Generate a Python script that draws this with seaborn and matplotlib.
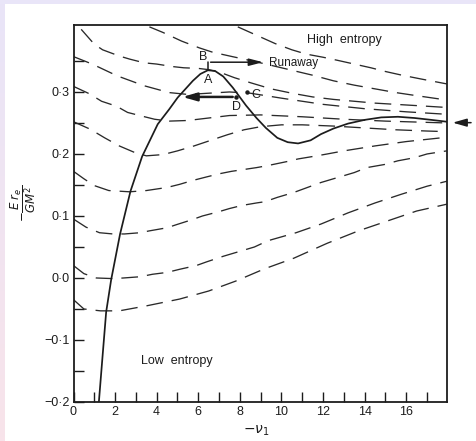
import numpy as np
import pandas as pd
import matplotlib
matplotlib.use("Agg")
import matplotlib.pyplot as plt
from matplotlib.patches import Rectangle
import seaborn as sns

# equilibrium sequence (solid curve)
eq_x = [1.22, 1.4, 1.57, 1.81, 2.24, 2.74, 3.3, 4.05, 4.6, 5.01, 5.74, 6.1, 6.46, 6.8, 7.2,
        7.66, 8.3, 8.8, 9.25, 9.8, 10.3, 10.8, 11.4, 11.9, 12.5, 13.2, 14.0, 14.8, 15.6,
        16.4, 17.2, 17.95]
eq_y = [-0.2, -0.125, -0.055, -0.003, 0.071, 0.14, 0.196, 0.248, 0.272, 0.291, 0.318, 0.329,
        0.335, 0.334, 0.325, 0.307, 0.278, 0.258, 0.242, 0.226, 0.219, 0.217, 0.222, 0.232,
        0.241, 0.249, 0.255, 0.259, 0.26, 0.258, 0.255, 0.252]

# constant-entropy curves (dashed), top to bottom
t1_x = [7.9, 8.7, 9.7, 10.5, 11.2, 12.0, 12.7, 13.5, 14.3, 15.0, 15.8, 16.7, 17.95]
t1_y = [0.405, 0.393, 0.378, 0.368, 0.361, 0.356, 0.351, 0.345, 0.339, 0.333, 0.327, 0.321, 0.313]
t2_x = [3.65, 4.3, 5.2, 6.06, 6.7, 7.64, 8.6, 9.5, 10.5, 11.5, 12.5, 13.5, 14.5, 15.5, 16.5, 17.95]
t2_y = [0.405, 0.396, 0.382, 0.371, 0.364, 0.357, 0.35, 0.343, 0.335, 0.327, 0.318, 0.311,
        0.305, 0.299, 0.294, 0.287]
a_x = [0.37, 1.0, 1.4, 2.2, 2.7, 3.4, 4.0, 4.75, 5.3, 6.0, 6.5, 7.1, 7.74, 8.5, 9.5, 10.5,
       11.5, 12.5, 13.5, 14.5, 15.5, 16.5, 17.95]
a_y = [0.401, 0.377, 0.368, 0.358, 0.353, 0.347, 0.345, 0.341, 0.339, 0.338, 0.336, 0.331,
       0.323, 0.315, 0.305, 0.298, 0.292, 0.288, 0.285, 0.282, 0.28, 0.278, 0.275]
b_x = [0, 0.9, 2.1, 3.4, 4.6, 5.5, 6.5, 7.5, 8.5, 10.0, 12.0, 14.0, 16.0, 17.95]
b_y = [0.357, 0.345, 0.326, 0.31, 0.299, 0.296, 0.298, 0.3, 0.298, 0.29, 0.28, 0.273, 0.268, 0.264]
c_x = [0, 0.77, 1.35, 2.07, 2.6, 3.3, 3.9, 4.6, 5.5, 6.5, 7.5, 9.0, 11.0, 13.0, 15.0, 17.95]
c_y = [0.309, 0.297, 0.285, 0.277, 0.267, 0.261, 0.256, 0.253, 0.254, 0.258, 0.262, 0.263,
       0.26, 0.256, 0.253, 0.25]
d_x = [0, 0.8, 1.5, 2.2, 2.9, 3.5, 4.3, 5.0, 5.8, 6.6, 7.4, 8.2, 9.0, 10.0, 11.0, 12.5, 14.0,
       15.5, 17.0, 17.95]
d_y = [0.252, 0.24, 0.226, 0.213, 0.203, 0.197, 0.199, 0.205, 0.213, 0.222, 0.231, 0.239,
       0.244, 0.247, 0.247, 0.245, 0.242, 0.239, 0.237, 0.236]
e_x = [0, 0.5, 1.0, 1.7, 2.7, 3.5, 4.5, 5.1, 5.7, 6.4, 7.0, 7.6, 8.8, 9.3, 10.3, 10.8, 11.7,
       12.2, 13.0, 14.5, 16.0, 17.95]
e_y = [0.172, 0.16, 0.149, 0.141, 0.139, 0.141, 0.146, 0.151, 0.157, 0.163, 0.168, 0.172,
       0.178, 0.181, 0.188, 0.192, 0.197, 0.2, 0.205, 0.213, 0.22, 0.227]
f_x = [0, 0.6, 1.25, 1.9, 2.45, 3.2, 3.65, 4.5, 4.95, 5.7, 6.2, 7.0, 7.5, 8.1, 8.8, 9.2, 9.8,
       10.6, 11.25, 11.9, 12.7, 13.5, 14.1, 14.95, 15.6, 16.4, 17.0, 17.95]
f_y = [0.095, 0.082, 0.073, 0.071, 0.071, 0.073, 0.076, 0.081, 0.086, 0.094, 0.1, 0.107, 0.112,
       0.117, 0.121, 0.123, 0.13, 0.138, 0.146, 0.154, 0.162, 0.17, 0.178, 0.183, 0.189, 0.194,
       0.2, 0.205]
g_x = [0, 0.5, 1.1, 1.9, 2.4, 3.2, 3.8, 4.5, 5.1, 5.9, 6.4, 7.2, 8.0, 8.7, 9.34, 10.7, 11.9,
       13.2, 14.5, 15.76, 17.0, 17.95]
g_y = [0.02, 0.007, 0.0, -0.001, 0.0, 0.002, 0.006, 0.009, 0.014, 0.02, 0.026, 0.035, 0.043,
       0.05, 0.06, 0.073, 0.087, 0.105, 0.121, 0.135, 0.148, 0.156]
h_x = [0, 0.5, 1.3, 2.2, 3.5, 5.1, 6.5, 7.8, 9.2, 10.6, 12.2, 13.7, 15.1, 16.5, 17.95]
h_y = [-0.035, -0.05, -0.053, -0.053, -0.045, -0.034, -0.021, -0.005, 0.015, 0.032, 0.056,
       0.076, 0.092, 0.108, 0.119]

x_ticks = [0, 2, 4, 6, 8, 10, 12, 14, 16]
y_ticks = [-0.2, -0.1, 0.0, 0.1, 0.2, 0.3]
y_tick_labels = ["\u22120\u00b72", "\u22120\u00b71", "0\u00b70", "0\u00b71", "0\u00b72", "0\u00b73"]

sns.set_theme(style="ticks")
plt.rcParams["font.family"] = ["Liberation Sans", "DejaVu Sans"]
plt.rcParams["lines.scale_dashes"] = False
plt.rcParams["mathtext.fontset"] = "dejavusans"

ink = "#1c1c1c"
fig = plt.figure(figsize=(4.76, 4.41), dpi=100)

# lavender page background with white sheet
bg = fig.add_axes([0, 0, 1, 1], zorder=-5)
grad = np.linspace(0, 1, 100)[:, None]
cmap = matplotlib.colors.LinearSegmentedColormap.from_list("pg", ["#e9e5f8", "#f8e3ea"])
bg.imshow(grad, aspect="auto", cmap=cmap, extent=[0, 1, 0, 1], origin="upper")
bg.add_patch(Rectangle((5 / 476, 0), 1, 1 - 4 / 441, color="white", lw=0))
bg.set_xlim(0, 1)
bg.set_ylim(0, 1)
bg.axis("off")

ax = fig.add_axes([73.5 / 476, 39 / 441, 373.5 / 476, 377 / 441])
ax.set_facecolor("none")

curves = [(t1_x, t1_y), (t2_x, t2_y), (a_x, a_y), (b_x, b_y), (c_x, c_y), (d_x, d_y),
          (e_x, e_y), (f_x, f_y), (g_x, g_y), (h_x, h_y)]
for cx, cy in curves:
    sns.lineplot(x=cx, y=cy, ax=ax, color="#2a2a2a", lw=0.95, sort=False, estimator=None,
                 linestyle=(0, (12, 6.5)), clip_on=True)

sns.lineplot(x=eq_x, y=eq_y, ax=ax, color=ink, lw=1.25, sort=False, estimator=None)

# runaway path A -> B -> right
ax.plot([6.46, 6.46], [0.335, 0.348], color=ink, lw=1.1)
ax.annotate("", xy=(9.25, 0.348), xytext=(6.46, 0.348),
            arrowprops=dict(arrowstyle="-|>,head_length=0.7,head_width=0.18", color=ink, lw=1.1))
ax.annotate("", xy=(5.1, 0.292), xytext=(7.79, 0.292),
            arrowprops=dict(arrowstyle="-|>,head_length=0.7,head_width=0.2", color=ink, lw=1.8))
ax.plot([7.79], [0.292], "o", color=ink, ms=2.2)
ax.plot([8.33], [0.300], "o", color=ink, ms=2.2)
ax.annotate("", xy=(18.1, 0.2505), xytext=(19.25, 0.2505), annotation_clip=False,
            arrowprops=dict(arrowstyle="-|>,head_length=0.7,head_width=0.2", color=ink, lw=1.1))

ax.text(6.22, 0.356, "B", fontsize=9, color=ink, ha="center", va="center")
ax.text(6.49, 0.319, "A", fontsize=9, color=ink, ha="center", va="center")
ax.text(8.75, 0.295, "C", fontsize=9, color=ink, ha="center", va="center")
ax.text(7.85, 0.275, "D", fontsize=9, color=ink, ha="center", va="center")
ax.text(9.4, 0.347, "Runaway", fontsize=8.5, color=ink, ha="left", va="center")
ax.text(13.03, 0.384, "High  entropy", fontsize=9, color=ink, ha="center", va="center")
ax.text(4.98, -0.134, "Low  entropy", fontsize=9, color=ink, ha="center", va="center")

ax.set_xlim(0, 17.96)
ax.set_ylim(-0.2, 0.408)
ax.set_xticks(x_ticks)
ax.set_xticklabels([str(v) for v in x_ticks])
ax.set_xticks(np.arange(1, 18), minor=True)
ax.set_yticks(y_ticks)
ax.set_yticklabels(y_tick_labels)
ax.set_yticks(np.arange(-0.15, 0.4, 0.1), minor=True)
ax.tick_params(which="both", direction="in", length=7, width=1.0, color=ink,
               labelsize=9, labelcolor=ink, pad=3)
for side in ["top", "right", "left", "bottom"]:
    ax.spines[side].set_visible(True)
    ax.spines[side].set_color(ink)
    ax.spines[side].set_linewidth(1.3)

ax.set_xlabel(r"$-\nu_1$", fontsize=10, color=ink)
ax.xaxis.set_label_coords(0.49, -0.056)
ax.set_ylabel(r"$-\dfrac{E\,r_e}{GM^2}$", fontsize=8.5, color=ink, rotation=90)
ax.yaxis.set_label_coords(-0.095, 0.528)

fig.savefig("out.png", dpi=100)
